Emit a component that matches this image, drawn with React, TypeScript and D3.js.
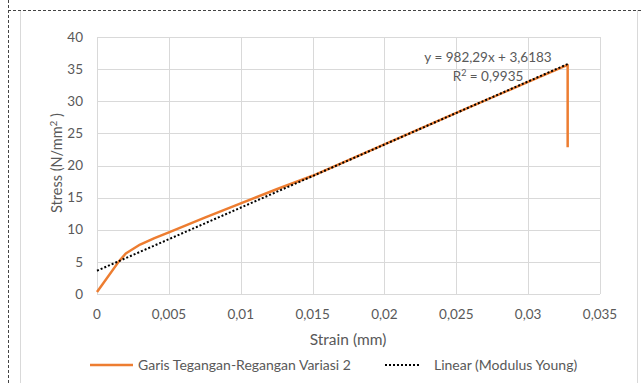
import React from "react";
import * as d3 from "d3";

// Stress–strain readings (strain in mm, stress in N/mm²)
const strain = [0, 0.0015, 0.002, 0.003, 0.004, 0.005, 0.0075, 0.01, 0.0125, 0.015, 0.02, 0.025, 0.03, 0.03275, 0.03275];
const stress = [0.3, 5.0, 6.3, 7.7, 8.7, 9.6, 11.9, 14.1, 16.3, 18.4, 23.3, 28.2, 33.0, 35.65, 22.85];

// Linear fit (Young's modulus)
const slope = 982.29;
const intercept = 3.6183;
const fitDomain = [0, 0.03275];

const xTicks = [0, 0.005, 0.01, 0.015, 0.02, 0.025, 0.03, 0.035];
const yTicks = [0, 5, 10, 15, 20, 25, 30, 35, 40];

const seriesName = "Garis Tegangan-Regangan Variasi 2";
const fitName = "Linear (Modulus Young)";

const W = 641;
const H = 383;
const plot = { left: 97, right: 600, top: 37, bottom: 294 };
const font = "Lato, 'Liberation Sans', sans-serif";
const textColor = "#595959";
const gridColor = "#d9d9d9";
const orange = "#ED7D31";

const fmt = (v: number) => String(v).replace(".", ",");

export default function App() {
  const x = d3.scaleLinear().domain([0, 0.035]).range([plot.left, plot.right]);
  const y = d3.scaleLinear().domain([0, 40]).range([plot.bottom, plot.top]);

  const pts = strain.map((s, i) => [s, stress[i]] as [number, number]);
  const line = d3
    .line<[number, number]>()
    .x((d) => x(d[0]))
    .y((d) => y(d[1]));

  const fitPts: [number, number][] = fitDomain.map((s) => [s, slope * s + intercept]);

  return (
    <svg
      width={W}
      height={H}
      style={{ position: "absolute", left: 0, top: 0, fontFamily: font }}
    >
      <rect x={0} y={0} width={W} height={H} fill="#fff" />
      {/* chart frame */}
      <line x1={20.5} y1={10} x2={20.5} y2={H} stroke={gridColor} />
      <line x1={637.5} y1={10} x2={637.5} y2={H} stroke={gridColor} />
      <line x1={8.5} y1={0} x2={8.5} y2={H} stroke="#444" strokeDasharray="3,2" />
      <line x1={8} y1={10.5} x2={W} y2={10.5} stroke="#444" strokeDasharray="3,2" />

      {/* gridlines */}
      {yTicks.map((t) => (
        <line
          key={"gy" + t}
          x1={plot.left}
          x2={plot.right}
          y1={Math.round(y(t)) + 0.5}
          y2={Math.round(y(t)) + 0.5}
          stroke={gridColor}
        />
      ))}
      {xTicks.map((t) => (
        <line
          key={"gx" + t}
          x1={Math.round(x(t)) + 0.5}
          x2={Math.round(x(t)) + 0.5}
          y1={plot.top}
          y2={plot.bottom}
          stroke={gridColor}
        />
      ))}

      {/* tick labels */}
      {yTicks.map((t) => (
        <text
          key={"ty" + t}
          x={83}
          y={y(t)}
          dy="0.35em"
          textAnchor="end"
          fontSize={13.5}
          fill={textColor}
        >
          {t}
        </text>
      ))}
      {xTicks.map((t) => (
        <text
          key={"tx" + t}
          x={x(t)}
          y={319}
          textAnchor="middle"
          fontSize={13.5}
          fill={textColor}
        >
          {fmt(t)}
        </text>
      ))}

      {/* axis titles */}
      <text x={348} y={344.5} textAnchor="middle" fontSize={15.5} fill={textColor}>
        Strain (mm)
      </text>
      <text
        transform="translate(62,163) rotate(-90)"
        textAnchor="middle"
        fontSize={14.5}
        fill={textColor}
      >
        Stress (N/mm
        <tspan dy={-5} fontSize={10}>2</tspan>
        <tspan dy={5}> )</tspan>
      </text>

      {/* data series */}
      <path d={line(pts) || ""} fill="none" stroke={orange} strokeWidth={2.5} strokeLinejoin="round" />
      <path
        d={line(fitPts) || ""}
        fill="none"
        stroke="#000"
        strokeWidth={2}
        strokeDasharray="2,2"
      />

      {/* trendline label */}
      <text x={488} y={62} textAnchor="middle" fontSize={13.5} fill={textColor}>
        y = 982,29x + 3,6183
      </text>
      <text x={488} y={81} textAnchor="middle" fontSize={13.5} fill={textColor}>
        R<tspan dy={-5} fontSize={9}>2</tspan>
        <tspan dy={5}> = 0,9935</tspan>
      </text>

      {/* legend */}
      <line x1={90} x2={133} y1={365} y2={365} stroke={orange} strokeWidth={2.5} />
      <text x={138} y={370} fontSize={14} fill={textColor}>
        {seriesName}
      </text>
      <line x1={385} x2={419} y1={365} y2={365} stroke="#000" strokeWidth={2} strokeDasharray="2,2" />
      <text x={434} y={370} fontSize={14} fill={textColor}>
        {fitName}
      </text>
    </svg>
  );
}
